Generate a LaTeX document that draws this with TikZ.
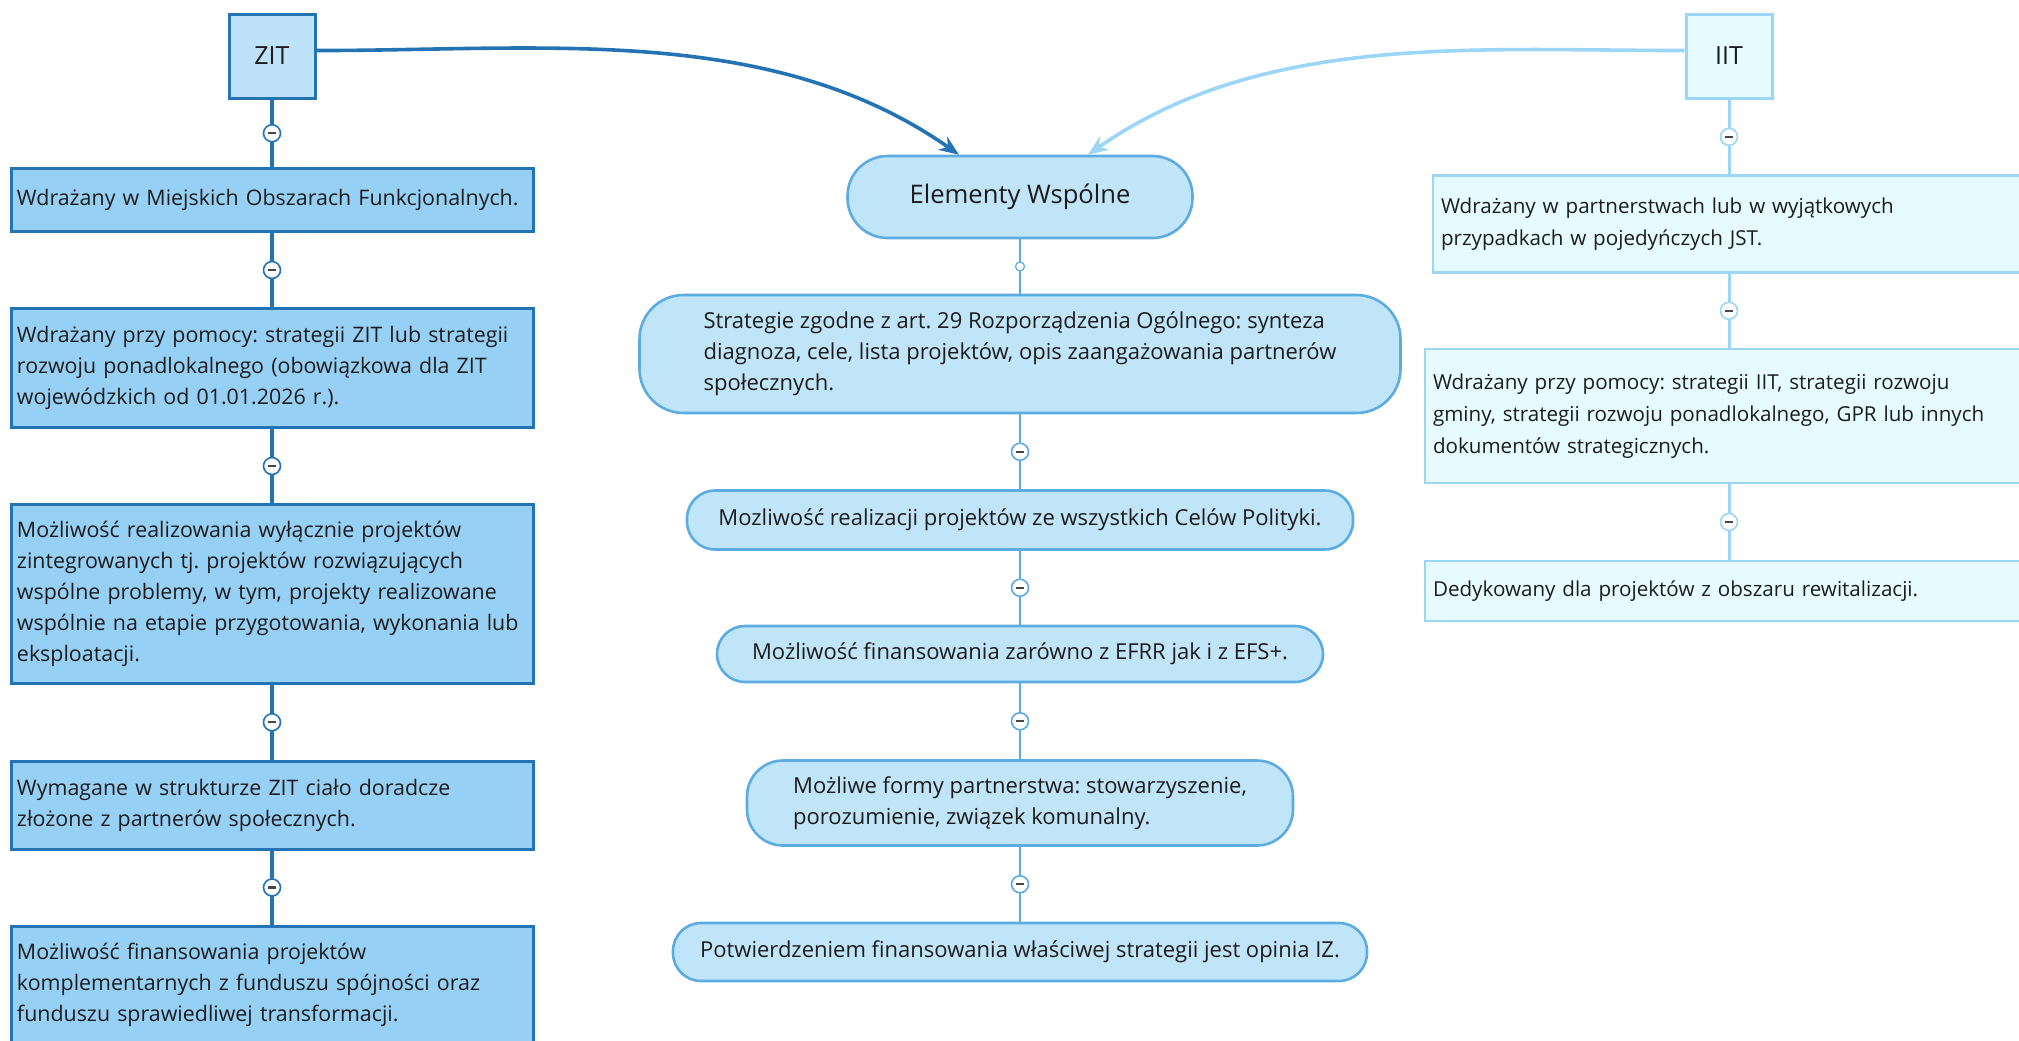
\documentclass[tikz,border=0pt]{standalone}
\usepackage{fontspec}
\setmainfont{Open Sans}
\usepackage{tikz}
\usetikzlibrary{arrows.meta}

\definecolor{zitdark}{RGB}{36,115,180}
\definecolor{zitfill}{RGB}{190,227,248}
\definecolor{zitleaf}{RGB}{150,208,245}
\definecolor{wspline}{RGB}{92,172,226}
\definecolor{wspfill}{RGB}{192,228,248}
\definecolor{iitline}{RGB}{156,214,246}
\definecolor{iitfill}{RGB}{230,251,255}
\definecolor{txt}{RGB}{28,28,28}
\definecolor{dashgray}{RGB}{70,70,70}
\newcommand{\minusbar}{\textcolor{dashgray}{\rule[-0.6pt]{3.8pt}{1.2pt}}}
\frenchspacing

\begin{document}
\begin{tikzpicture}[x=0.5pt,y=0.5pt,yscale=-1,
  every node/.style={text=txt},
  headbox/.style={line width=1.5pt,minimum width=43pt,minimum height=42pt,font=\fontsize{12.5}{15}\selectfont},
  zitleafbox/.style={draw=zitdark,fill=zitleaf,line width=1.5pt,text width=255pt,inner xsep=3pt,align=left,font=\fontsize{10.7}{15.5}\selectfont},
  wspbox/.style={draw=wspline,fill=wspfill,line width=1.3pt,rounded corners=14pt,align=left,font=\fontsize{11}{15.5}\selectfont},
  iitleafbox/.style={draw=iitline,fill=iitfill,line width=1.3pt,inner xsep=4pt,align=left,font=\fontsize{10.3}{16}\selectfont},
  collapse/.style={circle,draw=#1,fill=white,line width=0.8pt,inner sep=0pt,minimum size=8.5pt},
  knob/.style={circle,draw=wspline,fill=white,line width=0.6pt,inner sep=0pt,minimum size=4.5pt}]
%set diagram left start at 0, and has height of 1040
\path[use as bounding box] (0,0) rectangle (2019,1040);

%Shape: Rectangle ZIT
\node[headbox,draw=zitdark,fill=zitfill] (zit) at (272,56) {ZIT};
%Shape: Rectangle IIT
\node[headbox,draw=iitline,fill=iitfill] (iit) at (1729,56) {IIT};
%Shape: Rounded Rectangle
\node[wspbox,rounded corners=20pt,minimum width=172.5pt,minimum height=41pt,align=center,font=\fontsize{12.8}{15}\selectfont] (elem) at (1020,197) {Elementy Wspólne};

% ZIT column
\node[zitleafbox,minimum height=31.5pt] (zit1) at (272,200) {Wdrażany w Miejskich Obszarach Funkcjonalnych.};
\node[zitleafbox,minimum height=59.5pt] (zit2) at (272,368) {Wdrażany przy pomocy: strategii ZIT lub strategii\\ rozwoju ponadlokalnego (obowiązkowa dla ZIT\\ wojewódzkich od 01.01.2026 r.).};
\node[zitleafbox,minimum height=89.5pt] (zit3) at (272,594) {Możliwość realizowania wyłącznie projektów\\ zintegrowanych tj. projektów rozwiązujących\\ wspólne problemy, w tym, projekty realizowane\\ wspólnie na etapie przygotowania, wykonania lub\\ eksploatacji.};
\node[zitleafbox,minimum height=44pt] (zit4) at (272,805) {Wymagane w strukturze ZIT ciało doradcze\\ złożone z partnerów społecznych.};
\node[zitleafbox,minimum height=59pt] (zit5) at (272,985) {Możliwość finansowania projektów\\ komplementarnych z funduszu spójności oraz\\ funduszu sprawiedliwej transformacji.};

% Elementy Wspolne column
\node[wspbox,rounded corners=22pt,minimum width=380.5pt,minimum height=59pt] (wsp1) at (1020,354) {Strategie zgodne z art. 29 Rozporządzenia Ogólnego: synteza\\ diagnoza, cele, lista projektów, opis zaangażowania partnerów\\ społecznych.};
\node[wspbox,minimum width=333pt,minimum height=29.5pt] (wsp2) at (1020,520) {Mozliwość realizacji projektów ze wszystkich Celów Polityki.};
\node[wspbox,minimum width=303pt,minimum height=28pt] (wsp3) at (1020,654) {Możliwość finansowania zarówno z EFRR jak i z EFS+.};
\node[wspbox,rounded corners=18pt,minimum width=273pt,minimum height=42.5pt] (wsp4) at (1020,803) {Możliwe formy partnerstwa: stowarzyszenie,\\ porozumienie, związek komunalny.};
\node[wspbox,minimum width=347pt,minimum height=29pt] (wsp5) at (1020,952) {Potwierdzeniem finansowania właściwej strategii jest opinia IZ.};

% IIT column
\node[iitleafbox,text width=288pt,minimum height=48.5pt] (iit1) at (1729,224) {Wdrażany w partnerstwach lub w wyjątkowych\\ przypadkach w pojedyńczych JST.};
\node[iitleafbox,text width=296pt,minimum height=67pt] (iit2) at (1729,416) {Wdrażany przy pomocy: strategii IIT, strategii rozwoju\\ gminy, strategii rozwoju ponadlokalnego, GPR lub innych\\ dokumentów strategicznych.};
\node[iitleafbox,text width=296pt,minimum height=30pt] (iit3) at (1729,591) {Dedykowany dla projektów z obszaru rewitalizacji.};

%Straight Lines ZIT
\draw[zitdark,line width=1.6pt] (zit) -- node[collapse=zitdark] {\minusbar} (zit1);
\draw[zitdark,line width=1.6pt] (zit1) -- node[collapse=zitdark] {\minusbar} (zit2);
\draw[zitdark,line width=1.6pt] (zit2) -- node[collapse=zitdark] {\minusbar} (zit3);
\draw[zitdark,line width=1.6pt] (zit3) -- node[collapse=zitdark] {\minusbar} (zit4);
\draw[zitdark,line width=1.6pt] (zit4) -- node[collapse=zitdark] {\minusbar} (zit5);
%Straight Lines Elementy Wspolne
\draw[wspline,line width=1.2pt] (elem) -- node[knob] {} (wsp1);
\draw[wspline,line width=1.2pt] (wsp1) -- node[collapse=wspline] {\minusbar} (wsp2);
\draw[wspline,line width=1.2pt] (wsp2) -- node[collapse=wspline] {\minusbar} (wsp3);
\draw[wspline,line width=1.2pt] (wsp3) -- node[collapse=wspline] {\minusbar} (wsp4);
\draw[wspline,line width=1.2pt] (wsp4) -- node[collapse=wspline] {\minusbar} (wsp5);
%Straight Lines IIT
\draw[iitline,line width=1.5pt] (iit) -- node[collapse=iitline] {\minusbar} (iit1);
\draw[iitline,line width=1.5pt] (iit1) -- node[collapse=iitline] {\minusbar} (iit2);
\draw[iitline,line width=1.5pt] (iit2) -- node[collapse=iitline] {\minusbar} (iit3);

%Curve Lines (y axis flipped, so in angles are negative)
\draw[zitdark,line width=1.8pt,-{Stealth[length=10pt,width=8pt]}] (zit.7) to[out=0,in=-145,looseness=0.9] ([xshift=-30.5pt]elem.north);
\draw[iitline,line width=1.8pt,-{Stealth[length=10pt,width=8pt]}] (iit.173) to[out=180,in=-35,looseness=0.9] ([xshift=34pt]elem.north);

\end{tikzpicture}
\end{document}
